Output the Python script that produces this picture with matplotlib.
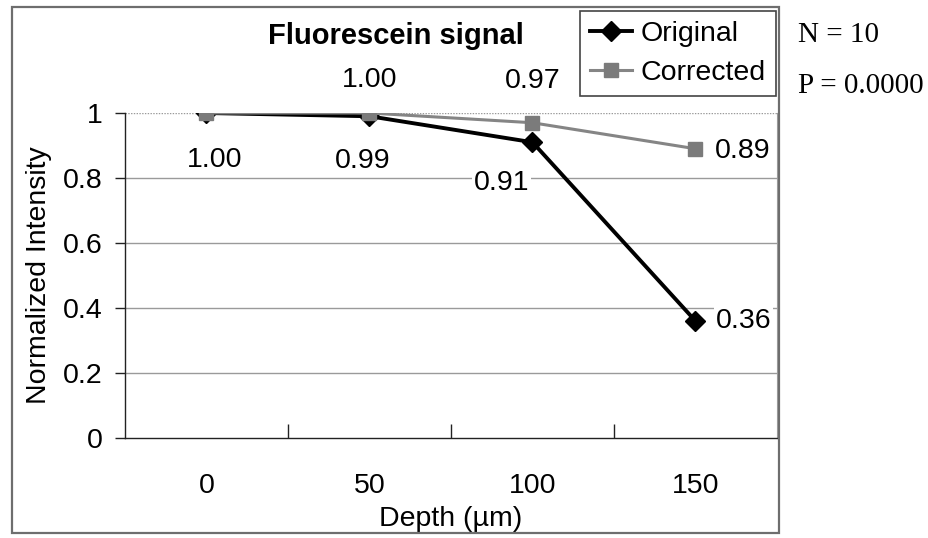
import matplotlib
matplotlib.use("Agg")
import matplotlib.pyplot as plt
from matplotlib.patches import Rectangle

# Data
depths = ["0", "50", "100", "150"]
original = [1.00, 0.99, 0.91, 0.36]
corrected = [1.00, 1.00, 0.97, 0.89]
y_ticks = [0, 0.2, 0.4, 0.6, 0.8, 1.0]
y_tick_labels = ["0", "0.2", "0.4", "0.6", "0.8", "1"]

SANS = ["Liberation Sans", "DejaVu Sans"]
SERIF = ["Liberation Serif", "DejaVu Serif"]
FS = 20.5

W, H = 929, 538
fig = plt.figure(figsize=(W / 100, H / 100), dpi=100)

def fx(px):
    return px / W

def fy(py):
    return 1 - py / H

# Chart area border
fig.patches.append(Rectangle((fx(12), fy(533)), fx(779) - fx(12), fy(7) - fy(533),
                             transform=fig.transFigure, fill=False,
                             edgecolor="#6e6e6e", linewidth=1.6, zorder=0))

ax = fig.add_axes([fx(125), fy(438), fx(777) - fx(125), fy(113) - fy(438)])
x = list(range(len(depths)))

ax.set_xlim(-0.5, len(depths) - 0.5)
ax.set_ylim(0, 1)

# Gridlines
for yv in y_ticks[1:-1]:
    ax.axhline(yv, color="#9a9a9a", linewidth=1.0, zorder=1)
ax.axhline(1.0, color="#9a9a9a", linewidth=1.0, linestyle=(0, (1, 1)), zorder=1)

ax.spines["top"].set_visible(False)
ax.spines["right"].set_color("#a0a0a0")
ax.spines["left"].set_color("#222222")
ax.spines["bottom"].set_color("#222222")
ax.spines["left"].set_linewidth(1.0)
ax.spines["bottom"].set_linewidth(1.0)

ax.set_yticks(y_ticks)
ax.set_yticklabels(y_tick_labels, fontsize=FS, family=SANS)
ax.tick_params(axis="y", direction="out", length=7, width=1, pad=9, color="#222222")

# Category labels on centers, tick marks on boundaries
ax.set_xticks(x)
ax.set_xticklabels(depths, fontsize=FS, family=SANS)
ax.set_xticks([i + 0.5 for i in x[:-1]], minor=True)
ax.tick_params(axis="x", which="major", length=0, pad=25)
ax.tick_params(axis="x", which="minor", direction="in", length=10, width=1, color="#222222")

ax.plot(x, original, color="#000000", linewidth=2.8, marker="D", markersize=10,
        markerfacecolor="#000000", markeredgecolor="#000000", label="Original", zorder=3)
ax.plot(x, corrected, color="#858585", linewidth=2.2, marker="s", markersize=10,
        markerfacecolor="#7b7b7b", markeredgecolor="#7b7b7b", label="Corrected", zorder=4)

# Value labels
box = dict(facecolor="white", edgecolor="none", pad=1)
orig_offsets = [(8, -47), (-7, -45), (-31, -41), (48, 0)]
corr_offsets = [None, (0, 33), (0, 42), (47, -2)]
for i, v in enumerate(original):
    ax.annotate(f"{v:.2f}", (x[i], v), xytext=orig_offsets[i], textcoords="offset pixels",
                ha="center", va="center", fontsize=FS, family=SANS, bbox=box, zorder=5)
for i, v in enumerate(corrected):
    if corr_offsets[i] is None:
        continue
    ax.annotate(f"{v:.2f}", (x[i], v), xytext=corr_offsets[i], textcoords="offset pixels",
                ha="center", va="center", fontsize=FS, family=SANS, bbox=box, zorder=5,
                annotation_clip=False)

ax.set_xlabel("Depth (µm)", fontsize=FS, family=SANS, labelpad=5)
ax.set_ylabel("Normalized Intensity", fontsize=FS, family=SANS, labelpad=8)

fig.text(fx(396), fy(36), "Fluorescein signal", ha="center", va="center",
         fontsize=21, fontweight="bold", family=SANS)

leg = ax.legend(loc="upper right",
                bbox_to_anchor=(fx(776), fy(11)), bbox_transform=fig.transFigure,
                borderaxespad=0, frameon=True, fancybox=False, framealpha=1,
                edgecolor="#444444", prop={"family": SANS, "size": FS},
                handlelength=1.5, handletextpad=0.3, borderpad=0.35, labelspacing=0.45)
leg.get_frame().set_linewidth(1.2)

fig.text(fx(798), fy(35), "N = 10", ha="left", va="center", fontsize=21, family=SERIF)
fig.text(fx(798), fy(86), "P = 0.0000", ha="left", va="center", fontsize=21, family=SERIF)

fig.savefig("out.png", dpi=100)
